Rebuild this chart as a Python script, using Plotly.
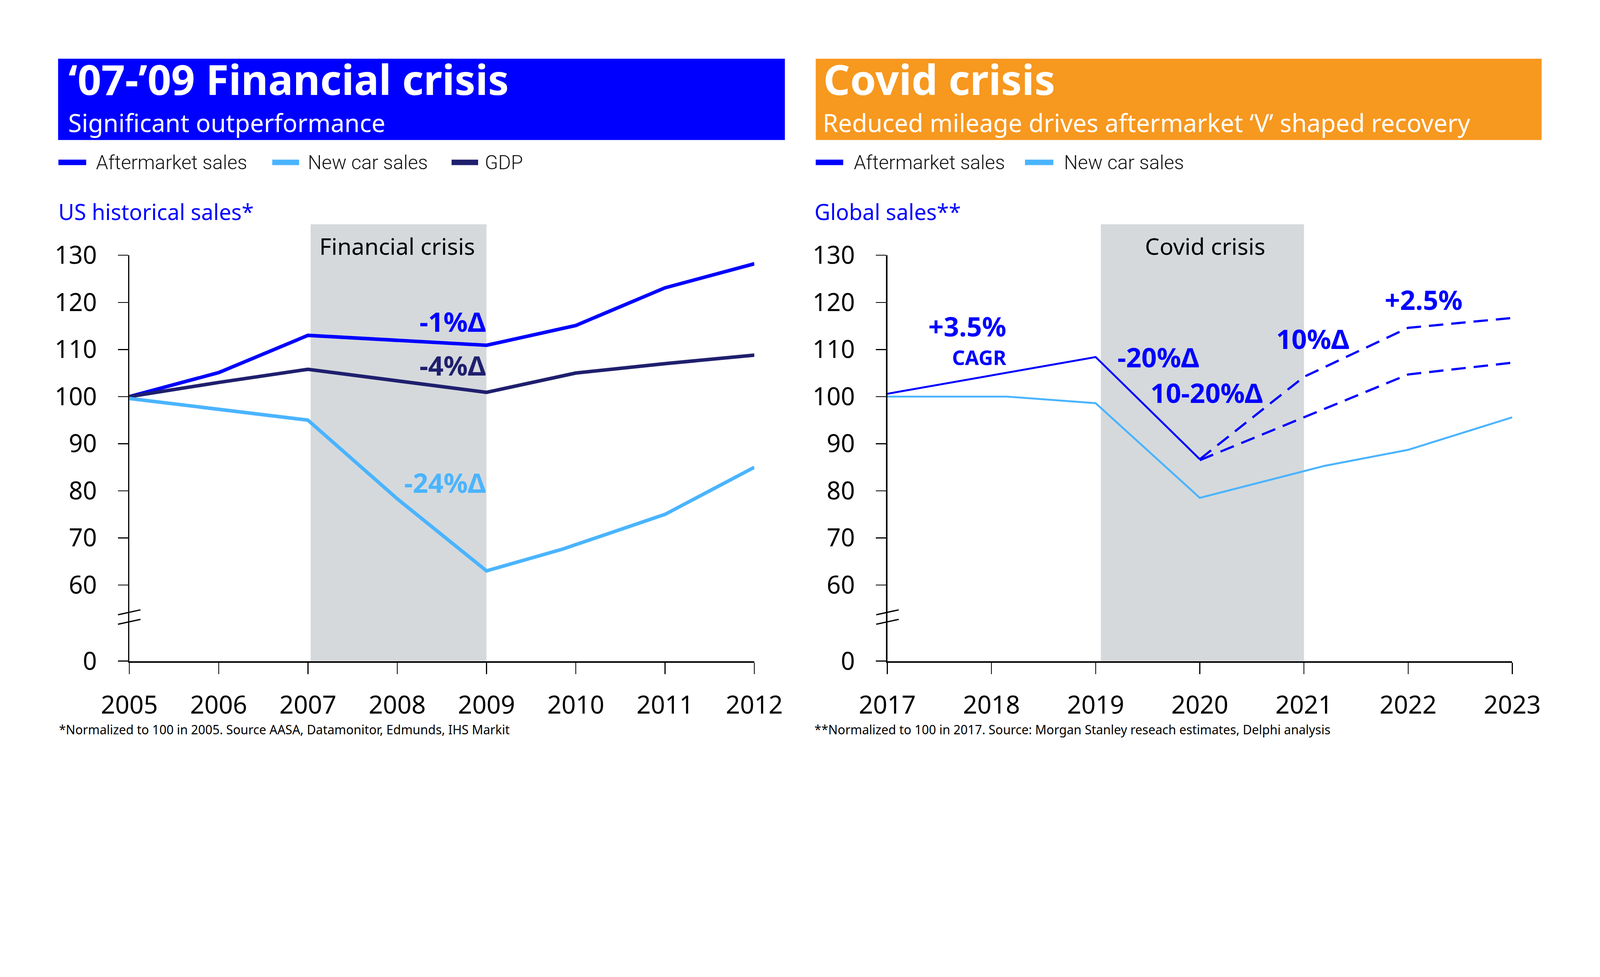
import plotly.graph_objects as go
from plotly.subplots import make_subplots

# ---- data: financial crisis (US, 2005 = 100)
fin_after_years = [2005, 2006, 2007, 2009, 2010, 2011, 2012]
fin_after_vals = [100, 105.1, 113, 110.9, 115.1, 123.1, 128.2]
fin_newcar_years = [2005, 2007, 2008, 2009, 2009.85, 2011, 2012]
fin_newcar_vals = [99.6, 95, 78.3, 63, 67.6, 75, 85]
fin_gdp_years = [2005, 2006, 2007, 2009, 2010, 2011, 2012]
fin_gdp_vals = [100, 103, 105.8, 100.9, 105, 107, 108.8]

# ---- data: covid crisis (global, 2017 = 100)
cov_after_years = [2017, 2019, 2020]
cov_after_vals = [100.6, 108.4, 86.7]
cov_high_years = [2020, 2021, 2022, 2023]
cov_high_vals = [86.7, 104.2, 114.6, 116.7]
cov_low_years = [2020, 2021, 2022, 2023]
cov_low_vals = [86.5, 95.6, 104.7, 107.2]
cov_newcar_years = [2017, 2018.15, 2019, 2020, 2021.2, 2022, 2023]
cov_newcar_vals = [100, 100, 98.6, 78.5, 85.3, 88.7, 95.6]

fin_ticks_x = [2005, 2006, 2007, 2008, 2009, 2010, 2011, 2012]
cov_ticks_x = [2017, 2018, 2019, 2020, 2021, 2022, 2023]
y_tick_labels = ['0', '60', '70', '80', '90', '100', '110', '120', '130']
y_zero_pos = 43.85   # where "0" sits on the broken axis
y_tick_vals = [y_zero_pos, 60, 70, 80, 90, 100, 110, 120, 130]

BLUE = '#0000FF'
LIGHT = '#4AB4FF'
NAVY = '#1F1F6E'
ORANGE = '#F7981F'
GREY = '#D5D9DC'
FONT = 'Noto Sans'

W, H = 5000, 2500
def xp(p):
    return p / W
def yp(p):
    return 1 - p / H

fig = make_subplots(rows=1, cols=2)

fig.add_trace(go.Scatter(x=fin_after_years, y=fin_after_vals, mode='lines', name='Aftermarket sales',
                         line=dict(color=BLUE, width=11)), row=1, col=1)
fig.add_trace(go.Scatter(x=fin_gdp_years, y=fin_gdp_vals, mode='lines', name='GDP',
                         line=dict(color=NAVY, width=11)), row=1, col=1)
fig.add_trace(go.Scatter(x=fin_newcar_years, y=fin_newcar_vals, mode='lines', name='New car sales',
                         line=dict(color=LIGHT, width=11)), row=1, col=1)

fig.add_trace(go.Scatter(x=cov_newcar_years, y=cov_newcar_vals, mode='lines', name='New car sales',
                         line=dict(color=LIGHT, width=6)), row=1, col=2)
fig.add_trace(go.Scatter(x=cov_after_years, y=cov_after_vals, mode='lines', name='Aftermarket sales',
                         line=dict(color=BLUE, width=6)), row=1, col=2)
fig.add_trace(go.Scatter(x=cov_high_years, y=cov_high_vals, mode='lines', name='Aftermarket high',
                         line=dict(color=BLUE, width=7, dash='45px,25px')), row=1, col=2)
fig.add_trace(go.Scatter(x=cov_low_years, y=cov_low_vals, mode='lines', name='Aftermarket low',
                         line=dict(color=BLUE, width=7, dash='45px,25px')), row=1, col=2)

shapes = []
annotations = []

# header boxes
for x0, x1, col in [(96, 2451, BLUE), (2551, 4903, ORANGE)]:
    shapes.append(dict(type='rect', xref='paper', yref='paper', x0=xp(x0), x1=xp(x1),
                       y0=yp(399), y1=yp(134), fillcolor=col, line=dict(width=0)))

def text(x, y, s, size, color='black', weight=None, xanchor='left', xref='paper', yref='paper',
         family=FONT):
    annotations.append(dict(x=x, y=y, xref=xref, yref=yref, text=s, showarrow=False,
                            xanchor=xanchor, yanchor='middle',
                            font=dict(family=family, size=size, color=color, weight=weight)))

text(xp(128), yp(200), '‘07-’09 Financial crisis', 130, 'white', 'bold')
text(xp(126), yp(342), 'Significant outperformance', 77, 'white')
text(xp(2574), yp(200), 'Covid crisis', 130, 'white', 'bold')
text(xp(2572), yp(342), 'Reduced mileage drives aftermarket ‘V’ shaped recovery', 77, 'white')

# legends
legend_items = [
    [(97, 187, 217, BLUE, 'Aftermarket sales'), (790, 877, 903, LIGHT, 'New car sales'),
     (1371, 1457, 1477, NAVY, 'GDP')],
    [(2551, 2640, 2672, BLUE, 'Aftermarket sales'), (3229, 3321, 3353, LIGHT, 'New car sales')],
]
for group in legend_items:
    for s0, s1, tx, col, label in group:
        shapes.append(dict(type='line', xref='paper', yref='paper', x0=xp(s0), x1=xp(s1),
                           y0=yp(472), y1=yp(472), line=dict(color=col, width=17)))
        text(xp(tx), yp(472), label, 61, '#111111', 300, family='Roboto')

text(xp(94), yp(632), 'US historical sales*', 68, BLUE)
text(xp(2545), yp(632), 'Global sales**', 68, BLUE)

# crisis shading
for xref, x0, x1, label, xc in [('x', 2007.03, 2009, 'Financial crisis', 2008),
                                ('x2', 2019.05, 2021, 'Covid crisis', 2020.05)]:
    shapes.append(dict(type='rect', xref=xref, yref='paper', x0=x0, x1=x1,
                       y0=yp(2098), y1=yp(674), fillcolor=GREY, line=dict(width=0), layer='below'))
    text(xc, yp(744), label, 72, 'black', xanchor='center', xref=xref)

# axis break marks
for ax_x in [326, 2783]:
    for dy in [0, 31]:
        shapes.append(dict(type='line', xref='paper', yref='paper',
                           x0=xp(ax_x - 36), x1=xp(ax_x + 37),
                           y0=yp(1947 + dy), y1=yp(1931 + dy), line=dict(color='black', width=4)))

# value call-outs
text(2009, 116, '-1%Δ', 84, BLUE, 'bold', 'right', 'x', 'y')
text(2009, 106.7, '-4%Δ', 84, NAVY, 'bold', 'right', 'x', 'y')
text(2009, 81.8, '-24%Δ', 84, LIGHT, 'bold', 'right', 'x', 'y')

text(2018.15, 115.0, '+3.5%', 84, BLUE, 'bold', 'right', 'x2', 'y2')
text(2018.15, 108.4, 'CAGR', 63, BLUE, 'bold', 'right', 'x2', 'y2')
text(2020.0, 108.4, '-20%Δ', 84, BLUE, 'bold', 'right', 'x2', 'y2')
text(2020.61, 100.9, '10-20%Δ', 84, BLUE, 'bold', 'right', 'x2', 'y2')
text(2021.44, 112.3, '10%Δ', 84, BLUE, 'bold', 'right', 'x2', 'y2')
text(2022.15, 120.6, '+2.5%', 84, BLUE, 'bold', 'center', 'x2', 'y2')

# footnotes
text(xp(96), yp(2321), '*Normalized to 100 in 2005. Source AASA, Datamonitor, Edmunds, IHS Markit', 39)
text(xp(2545), yp(2321), '**Normalized to 100 in 2017. Source: Morgan Stanley reseach estimates, Delphi analysis', 39)

fig.update_layout(
    width=W, height=H,
    margin=dict(l=0, r=0, t=0, b=0),
    paper_bgcolor='white', plot_bgcolor='white',
    showlegend=False,
    shapes=shapes,
    annotations=annotations,
    font=dict(family=FONT, size=77, color='black'))

fig.update_xaxes(range=[2005, 2012], tickvals=fin_ticks_x, domain=[xp(327), xp(2352)], row=1, col=1)
fig.update_xaxes(range=[2017, 2023], tickvals=cov_ticks_x, domain=[xp(2783), xp(4808)], row=1, col=2)
fig.update_xaxes(showgrid=False, zeroline=False, showline=True, linewidth=5, linecolor='black',
                 ticks='outside', ticklen=36, tickwidth=3, tickcolor='black',
                 ticklabelstandoff=30, tickfont=dict(size=78, color='black'))
fig.update_yaxes(range=[y_zero_pos, 130], tickvals=y_tick_vals, ticktext=y_tick_labels,
                 domain=[yp(2098), yp(775)], showgrid=False, zeroline=False, showline=True,
                 linewidth=4, linecolor='black', ticks='outside', ticklen=32, tickwidth=3,
                 tickcolor='black', ticklabelstandoff=50, tickfont=dict(size=77, color='black'))

# keep the page exactly one figure in size (no body margin / scrollbars),
# and fit it into the window if the window turns out smaller
fit_js = """
var gd = document.getElementById('{plot_id}');
document.body.style.margin = '0';
document.body.style.overflow = 'hidden';
var s = Math.min(window.innerWidth / 5000, window.innerHeight / 2500);
if (s < 1) { gd.style.transformOrigin = '0 0'; gd.style.transform = 'scale(' + s + ')'; }
"""
fig.write_html("out.html", post_script=fit_js, config={'displayModeBar': False})
